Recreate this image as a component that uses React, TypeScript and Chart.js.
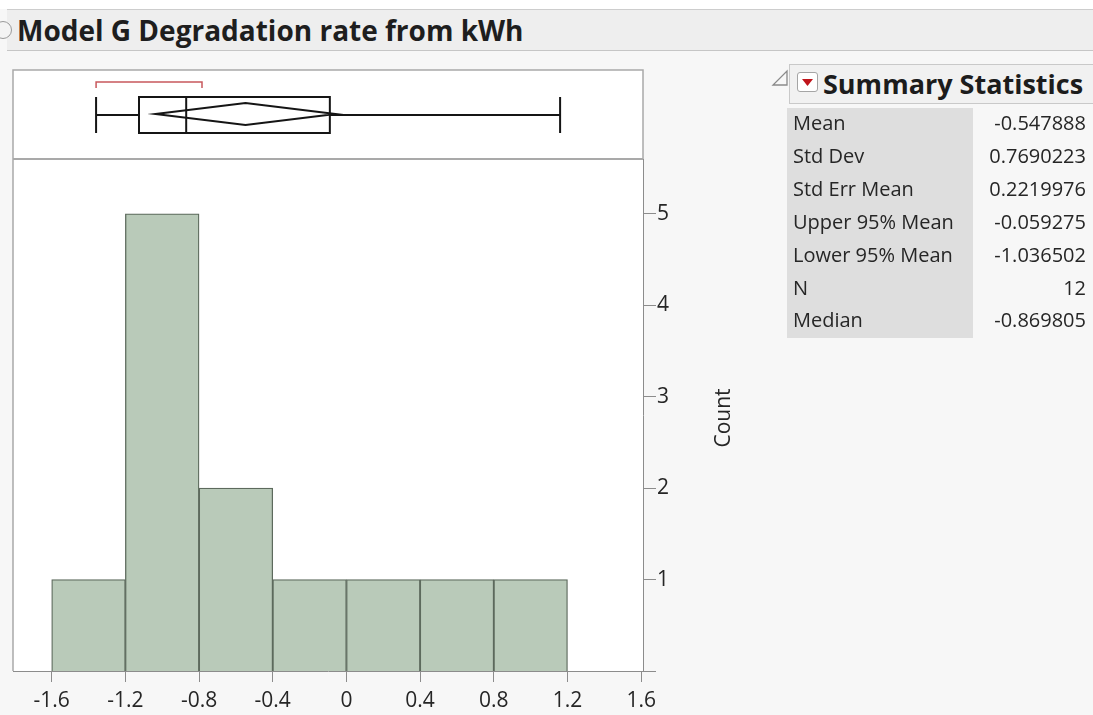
import React, { useEffect, useRef } from "react";
import { Chart, registerables } from "chart.js";

Chart.register(...registerables);

// Histogram bins (width 0.4) and their counts
const binCenters = [-1.4, -1.0, -0.6, -0.2, 0.2, 0.6, 1.0];
const binCounts = [1, 5, 2, 1, 1, 1, 1];

// Axis ticks
const xTickValues = [-1.6, -1.2, -0.8, -0.4, 0, 0.4, 0.8, 1.2, 1.6];
const xTickLabels = ["-1.6", "-1.2", "-0.8", "-0.4", "0", "0.4", "0.8", "1.2", "1.6"];
const yTickValues = [1, 2, 3, 4, 5];
const yTickLabels = ["1", "2", "3", "4", "5"];

// Outlier box plot: min, Q1, median, Q3, max
const quantiles = [-1.359, -1.126, -0.869805, -0.09, 1.16];
const meanValue = -0.547888;
const meanInterval = [-1.036502, -0.059275];
const shortestHalf = [-1.359, -0.784];

// Summary statistics table
const statNames = ["Mean", "Std Dev", "Std Err Mean", "Upper 95% Mean", "Lower 95% Mean", "N", "Median"];
const statValues = ["-0.547888", "0.7690223", "0.2219976", "-0.059275", "-1.036502", "12", "-0.869805"];

const FONT = '"Open Sans", "Noto Sans", sans-serif';
const TEXT = "#262626";
const PANEL_TOP = 70;

const boxPanelPlugin = {
  id: "boxPanel",
  beforeDraw(chart: any) {
    const { ctx, chartArea } = chart;
    const { left, right, bottom } = chartArea;
    ctx.save();
    ctx.fillStyle = "#ffffff";
    ctx.fillRect(left, PANEL_TOP, right - left, bottom - PANEL_TOP);
    ctx.restore();
  },
  afterDraw(chart: any) {
    const { ctx, chartArea, scales } = chart;
    const { left, right, top, bottom } = chartArea;
    const px = (v: number) => scales.x.getPixelForValue(v);
    ctx.save();

    // plot frame and separator between box plot and histogram
    ctx.strokeStyle = "#a9a9a9";
    ctx.lineWidth = 1.5;
    ctx.beginPath();
    ctx.moveTo(left, bottom);
    ctx.lineTo(left, PANEL_TOP);
    ctx.lineTo(right, PANEL_TOP);
    ctx.lineTo(right, top);
    ctx.stroke();
    ctx.lineWidth = 2;
    ctx.beginPath();
    ctx.moveTo(left, top);
    ctx.lineTo(right, top);
    ctx.stroke();

    // x axis line runs slightly past the right axis
    ctx.strokeStyle = "#8c8c8c";
    ctx.lineWidth = 1;
    ctx.beginPath();
    ctx.moveTo(right, bottom + 0.5);
    ctx.lineTo(right + 13, bottom + 0.5);
    ctx.stroke();

    // box plot
    const [mn, q1, med, q3, mx] = quantiles;
    const cy = 115;
    const bh = 18;
    ctx.strokeStyle = "#151515";
    ctx.lineWidth = 2;
    ctx.beginPath();
    ctx.moveTo(px(mn), cy);
    ctx.lineTo(px(q1), cy);
    ctx.moveTo(px(q3), cy);
    ctx.lineTo(px(mx), cy);
    ctx.moveTo(px(mn), cy - bh);
    ctx.lineTo(px(mn), cy + bh);
    ctx.moveTo(px(mx), cy - bh);
    ctx.lineTo(px(mx), cy + bh);
    ctx.stroke();
    ctx.strokeRect(px(q1), cy - bh, px(q3) - px(q1), bh * 2);
    ctx.beginPath();
    ctx.moveTo(px(med), cy - bh);
    ctx.lineTo(px(med), cy + bh);
    ctx.stroke();

    // means diamond
    const dy = 114;
    const dh = 11;
    ctx.beginPath();
    ctx.moveTo(px(meanInterval[0]), dy);
    ctx.lineTo(px(meanValue), dy - dh);
    ctx.lineTo(px(meanInterval[1]), dy);
    ctx.lineTo(px(meanValue), dy + dh);
    ctx.closePath();
    ctx.stroke();

    // shortest half bracket
    ctx.strokeStyle = "#c8585c";
    ctx.lineWidth = 1.5;
    ctx.beginPath();
    ctx.moveTo(px(shortestHalf[0]), 88);
    ctx.lineTo(px(shortestHalf[0]), 82);
    ctx.lineTo(px(shortestHalf[1]), 82);
    ctx.lineTo(px(shortestHalf[1]), 88);
    ctx.stroke();

    // y axis title, reading upward
    ctx.fillStyle = TEXT;
    ctx.font = `21px ${FONT}`;
    ctx.textAlign = "center";
    ctx.textBaseline = "middle";
    ctx.translate(724, (top + bottom) / 2 + 3);
    ctx.rotate(-Math.PI / 2);
    ctx.fillText("Count", 0, 0);
    ctx.restore();
  },
};

function Histogram() {
  const ref = useRef<HTMLCanvasElement | null>(null);
  useEffect(() => {
    if (!ref.current) return;
    const chart = new Chart(ref.current, {
      type: "bar",
      data: {
        datasets: [
          {
            data: binCenters.map((x, i) => ({ x, y: binCounts[i] })),
            backgroundColor: "#b9cab9",
            borderColor: "#5d6a5d",
            borderWidth: 1.3,
            borderSkipped: "bottom",
            barPercentage: 1,
            categoryPercentage: 1,
          },
        ],
      },
      options: {
        responsive: false,
        animation: false,
        layout: { padding: { left: 13, top: 159, right: 350, bottom: 0 } },
        plugins: { legend: { display: false }, tooltip: { enabled: false } },
        scales: {
          x: {
            type: "linear",
            min: -1.81,
            max: 1.61,
            offset: false,
            afterBuildTicks: (s: any) => {
              s.ticks = xTickValues.map((value) => ({ value }));
            },
            afterFit: (s: any) => {
              s.height = 44;
            },
            ticks: {
              callback: (_v: any, i: number) => xTickLabels[i],
              font: { family: FONT, size: 21 },
              color: TEXT,
              padding: 6,
              maxRotation: 0,
              autoSkip: false,
            },
            grid: { offset: false, drawOnChartArea: false, drawTicks: true, tickLength: 11, color: "#8c8c8c" },
            border: { display: true, color: "#8c8c8c" },
          },
          y: {
            position: "right",
            min: 0,
            max: 5.6,
            afterBuildTicks: (s: any) => {
              s.ticks = yTickValues.map((value) => ({ value }));
            },
            afterFit: (s: any) => {
              s.width = 100;
            },
            ticks: {
              callback: (_v: any, i: number) => yTickLabels[i],
              font: { family: FONT, size: 21 },
              color: TEXT,
              padding: 1,
            },
            grid: { drawOnChartArea: false, drawTicks: true, tickLength: 13, color: "#8c8c8c" },
            border: { display: true, color: "#8c8c8c" },
          },
        },
      } as any,
      plugins: [boxPanelPlugin],
    });
    return () => chart.destroy();
  }, []);
  return (
    <canvas
      ref={ref}
      width={1093}
      height={715}
      style={{ position: "absolute", left: 0, top: 0, width: 1093, height: 715 }}
    />
  );
}

function SummaryStatistics() {
  return (
    <div style={{ position: "absolute", left: 0, top: 0 }}>
      <svg
        width={18}
        height={18}
        style={{ position: "absolute", left: 771, top: 69 }}
      >
        <polygon points="16,2 16,16 2,16" fill="none" stroke="#8a8a8a" strokeWidth={1.3} />
      </svg>
      <div
        style={{
          position: "absolute",
          left: 789,
          top: 64,
          width: 310,
          height: 38,
          background: "#f1f1f1",
          border: "1px solid #c9c9c9",
        }}
      />
      <div
        style={{
          position: "absolute",
          left: 797,
          top: 72,
          width: 19,
          height: 18,
          background: "#ffffff",
          border: "1px solid #a5a5a5",
          borderRadius: 3,
        }}
      >
        <svg width={19} height={18} style={{ position: "absolute", left: 0, top: 0 }}>
          <polygon points="4,6 15,6 9.5,13" fill="#c0151b" />
        </svg>
      </div>
      <div
        style={{
          position: "absolute",
          left: 823,
          top: 65,
          height: 38,
          lineHeight: "38px",
          fontFamily: FONT,
          fontWeight: 700,
          fontSize: 27,
          color: "#1c1c1c",
          whiteSpace: "nowrap",
        }}
      >
        Summary Statistics
      </div>
      <div
        style={{
          position: "absolute",
          left: 787,
          top: 108,
          width: 186,
          height: 230,
          background: "#dedede",
        }}
      />
      {statNames.map((name, i) => (
        <React.Fragment key={name}>
          <div
            style={{
              position: "absolute",
              left: 793,
              top: 106 + i * 32.9,
              height: 33,
              lineHeight: "33px",
              fontFamily: FONT,
              fontSize: 20,
              color: TEXT,
              whiteSpace: "nowrap",
            }}
          >
            {name}
          </div>
          <div
            style={{
              position: "absolute",
              left: 975,
              width: 111,
              top: 106 + i * 32.9,
              height: 33,
              lineHeight: "33px",
              textAlign: "right",
              fontFamily: FONT,
              fontSize: 20,
              color: TEXT,
              whiteSpace: "nowrap",
            }}
          >
            {statValues[i]}
          </div>
        </React.Fragment>
      ))}
    </div>
  );
}

export default function App() {
  return (
    <div
      style={{
        position: "fixed",
        left: 0,
        top: 0,
        width: 1093,
        height: 715,
        overflow: "hidden",
        background: "#f7f7f7",
        fontFamily: FONT,
      }}
    >
      <div style={{ position: "absolute", left: 0, top: 0, width: 1093, height: 9, background: "#ffffff" }} />
      <div
        style={{
          position: "absolute",
          left: 7,
          top: 9,
          width: 1093,
          height: 40,
          background: "#eeeeee",
          borderTop: "1px solid #cdcdcd",
          borderBottom: "1px solid #c6c6c6",
        }}
      />
      <div
        style={{
          position: "absolute",
          left: -6,
          top: 21,
          width: 16,
          height: 16,
          borderRadius: "50%",
          border: "1px solid #9a9a9a",
          background: "#f4f4f4",
        }}
      />
      <div
        style={{
          position: "absolute",
          left: 17,
          top: 10,
          height: 40,
          lineHeight: "40px",
          fontFamily: FONT,
          fontWeight: 700,
          fontSize: 28,
          color: "#1e1e1e",
          whiteSpace: "nowrap",
        }}
      >
        Model G Degradation rate from kWh
      </div>
      <Histogram />
      <SummaryStatistics />
    </div>
  );
}
